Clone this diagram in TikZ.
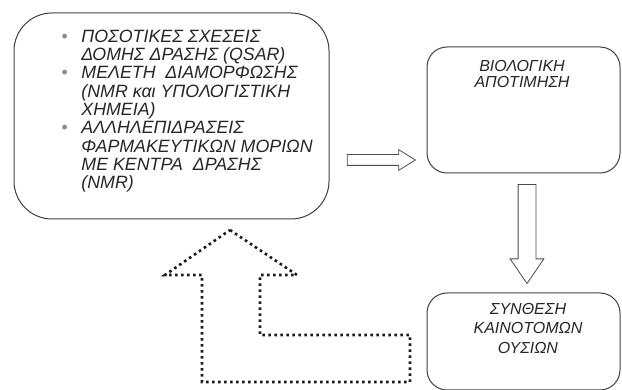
\documentclass[tikz,border=0pt]{standalone}
\usepackage{fontspec}
\setmainfont{Liberation Sans}
\usetikzlibrary{positioning}
\usetikzlibrary{calc}
\usetikzlibrary{shapes.arrows}

\begin{document}
\begin{tikzpicture}[x=1pt, y=-1pt,
    box/.style = {draw=black!75, line width=1pt, rounded corners=#1, inner sep=0pt},
    box/.default = 20pt,
    lbl/.style = {font=\fontsize{16}{#1}\selectfont\itshape, text=black!85, align=center, inner sep=0pt},
    lbl/.default = 16pt,
    hollow/.style = {single arrow, draw=black!70, line width=0.8pt, inner xsep=0pt, minimum width=0pt}]
    \useasboundingbox (0,0) rectangle (622,390);
    % the three stages
    \node[box=38pt, minimum width=315pt, minimum height=206pt] (design) at (171.5,116) {};
    \node[box, minimum width=193pt, minimum height=126pt] (bioeval) at (523.5,110) {};
    \node[box, minimum width=193pt, minimum height=97pt] (synth) at (523.5,341.5) {};
    \node[lbl, font=\fontsize{17.8}{18.3}\selectfont\itshape, anchor=north west, align=left] (items) at (61.5,29)
        {\begin{tabular}{@{}c@{\hspace{13.5pt}}l@{}}
         {\color{black!45}\upshape•} & ΠΟΣΟΤΙΚΕΣ ΣΧΕΣΕΙΣ\\
           & ΔΟΜΗΣ ΔΡΑΣΗΣ (QSAR)\\
         {\color{black!45}\upshape•} & ΜΕΛΕΤΗ \ ΔΙΑΜΟΡΦΩΣΗΣ\\
           & (NMR και ΥΠΟΛΟΓΙΣΤΙΚΗ\\
           & ΧΗΜΕΙΑ)\\
         {\color{black!45}\upshape•} & ΑΛΛΗΛΕΠΙΔΡΑΣΕΙΣ\\
           & ΦΑΡΜΑΚΕΥΤΙΚΩΝ ΜΟΡΙΩΝ\\
           & ΜΕ ΚΕΝΤΡΑ \ ΔΡΑΣΗΣ\\
           & (NMR)
         \end{tabular}};
    \node[lbl, anchor=north] (bioevaltext) at (522,60) {ΒΙΟΛΟΓΙΚΗ\\ΑΠΟΤΙΜΗΣΗ};
    \node[lbl=19.5pt, anchor=north] (synthtext) at (528,303) {ΣΥΝΘΕΣΗ\\ΚΑΙΝΟΤΟΜΩΝ\\ΟΥΣΙΩΝ};
    % block arrows
    \node[hollow, inner ysep=5pt, single arrow head extend=5pt, single arrow tip angle=64,
        minimum height=68pt] (toeval) at (377,160) {};
    \node[hollow, inner ysep=8.5pt, single arrow head extend=8pt, single arrow tip angle=69,
        minimum height=99pt, rotate=-90] (tosynth) at (527,227.5) {};
    % dotted feedback arrow
    \draw[draw=black!90, line width=2.6pt, dash pattern=on 2.6pt off 3.4pt]
        (230,230) -- (297,275) -- (260,275) -- (260,335) -- (410,335)
        -- (410,382) -- (202,382) -- (202,275) -- (165,275) -- cycle;
\end{tikzpicture}
\end{document}
